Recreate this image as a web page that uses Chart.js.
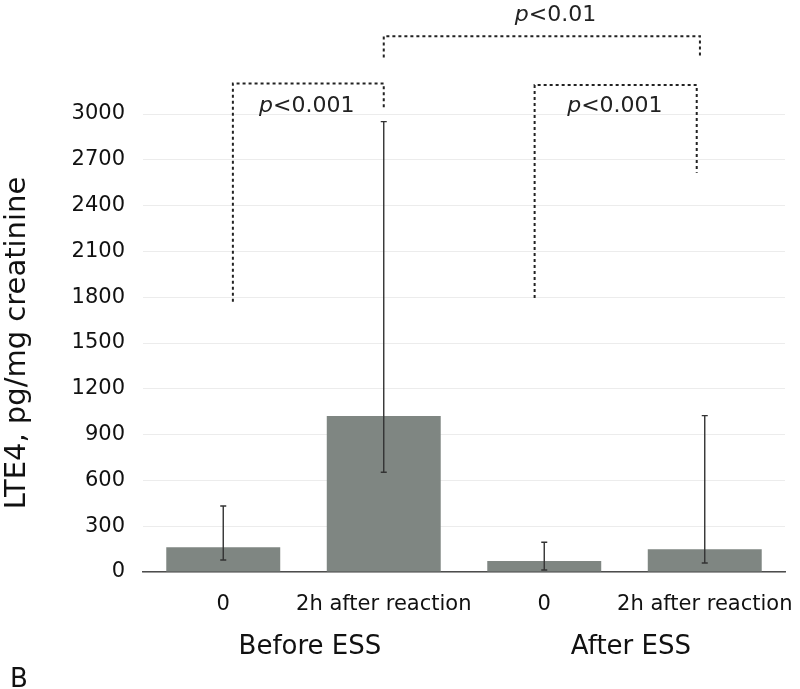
<!DOCTYPE html>
<html lang="en">
<head>
<meta charset="UTF-8">
<title>LTE4 before and after ESS</title>
<script src="https://cdn.jsdelivr.net/npm/chart.js"></script>
<style>
  html, body { margin: 0; padding: 0; background: #fff; }
  #wrap { width: 800px; height: 689px; }
</style>
</head>
<body>
<div id="wrap"><canvas id="lteChart"></canvas></div>
<script>
const categories = ['0', '2h after reaction', '0', '2h after reaction'];
const groups = ['Before ESS', 'After ESS'];
const groupCenters = [0.54, 2.54];        // category index under each group label
const lte4 = [162, 1022, 72, 149];        // bar height, pg/mg creatinine
const errLow = [79, 653, 13, 59];
const errHigh = [432, 2950, 195, 1024];

// significance brackets, in category index / value units
const brackets = [
  { from: 0.06, to: 1.0, top: 3200, legFrom: 1770, legTo: 3030, label: '<0.001', labelX: 0.52, labelY: 3015 },
  { from: 1.0, to: 2.97, top: 3510, legFrom: 3370, legTo: 3370, label: '<0.01', labelX: 2.07, labelY: 3610 },
  { from: 1.94, to: 2.95, top: 3190, legFrom: 1795, legTo: 2615, label: '<0.001', labelX: 2.44, labelY: 3015 }
];

const FONT = "'DejaVu Sans', sans-serif";

const extras = {
  id: 'extras',
  afterDatasetsDraw(chart) {
    const ctx = chart.ctx;
    const x = chart.scales.x, y = chart.scales.y;

    // error bars
    ctx.save();
    ctx.strokeStyle = '#333';
    ctx.lineWidth = 1.4;
    lte4.forEach((v, i) => {
      const cx = x.getPixelForValue(i);
      const yl = y.getPixelForValue(errLow[i]);
      const yh = y.getPixelForValue(errHigh[i]);
      ctx.beginPath();
      ctx.moveTo(cx, yl); ctx.lineTo(cx, yh);
      ctx.moveTo(cx - 3, yl); ctx.lineTo(cx + 3, yl);
      ctx.moveTo(cx - 3, yh); ctx.lineTo(cx + 3, yh);
      ctx.stroke();
    });
    ctx.restore();

    // brackets
    ctx.save();
    ctx.strokeStyle = '#222';
    ctx.lineWidth = 2;
    ctx.setLineDash([3, 3]);
    brackets.forEach(b => {
      const x1 = x.getPixelForValue(b.from), x2 = x.getPixelForValue(b.to);
      const yt = y.getPixelForValue(b.top);
      ctx.beginPath();
      ctx.moveTo(x1, y.getPixelForValue(b.legFrom));
      ctx.lineTo(x1, yt);
      ctx.lineTo(x2, yt);
      ctx.lineTo(x2, y.getPixelForValue(b.legTo));
      ctx.stroke();
    });
    ctx.setLineDash([]);

    // p labels: italic p + upright rest
    ctx.fillStyle = '#222';
    ctx.textBaseline = 'alphabetic';
    ctx.textAlign = 'left';
    brackets.forEach(b => {
      ctx.font = 'italic 22px ' + FONT;
      const wp = ctx.measureText('p').width;
      ctx.font = '22px ' + FONT;
      const wr = ctx.measureText(b.label).width;
      const cx = x.getPixelForValue(b.labelX);
      const by = y.getPixelForValue(b.labelY);
      const sx = cx - (wp + wr) / 2;
      ctx.font = 'italic 22px ' + FONT;
      ctx.fillText('p', sx, by);
      ctx.font = '22px ' + FONT;
      ctx.fillText(b.label, sx + wp, by);
    });

    // group labels under the tick labels
    ctx.fillStyle = '#111';
    ctx.textAlign = 'center';
    ctx.font = '26px ' + FONT;
    groups.forEach((g, i) => {
      ctx.fillText(g, x.getPixelForValue(groupCenters[i]), 654);
    });

    // panel letter
    ctx.textAlign = 'left';
    ctx.fillText('B', 10, 687);
    ctx.restore();
  }
};

new Chart(document.getElementById('lteChart'), {
  type: 'bar',
  data: {
    labels: categories,
    datasets: [{
      data: lte4,
      backgroundColor: '#7f8682',
      borderWidth: 0,
      categoryPercentage: 1,
      barPercentage: 0.71
    }]
  },
  options: {
    responsive: true,
    maintainAspectRatio: false,
    animation: false,
    layout: { padding: { top: 114, right: 15, left: 0, bottom: 0 } },
    plugins: { legend: { display: false }, tooltip: { enabled: false } },
    scales: {
      x: {
        grid: { display: false },
        border: { color: '#4d4d4d', width: 1.5 },
        ticks: { font: { family: FONT, size: 21 }, color: '#111', padding: 12, maxRotation: 0, autoSkip: false },
        afterFit: s => { s.height = 117; s.paddingLeft = 0; s.paddingRight = 0; }
      },
      y: {
        min: 0,
        max: 3000,
        ticks: { stepSize: 300, font: { family: FONT, size: 21 }, color: '#111', padding: 18, callback: v => String(v) },
        grid: { color: '#ececec', drawTicks: false },
        border: { display: false },
        title: { display: true, text: 'LTE4, pg/mg creatinine', font: { family: FONT, size: 29 }, color: '#111', padding: 0 },
        afterFit: s => { s.width = 143; }
      }
    }
  },
  plugins: [extras]
});
</script>
</body>
</html>
